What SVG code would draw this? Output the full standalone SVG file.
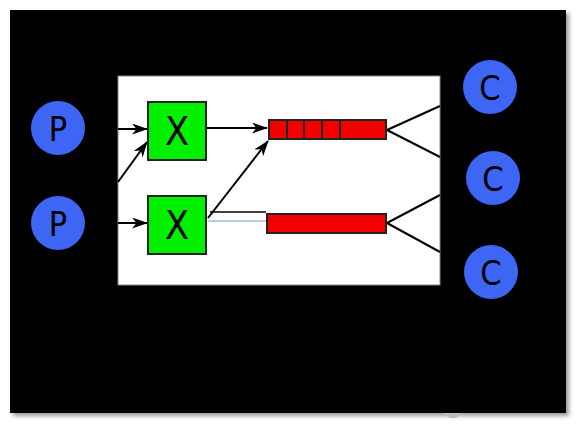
<svg xmlns="http://www.w3.org/2000/svg" width="577" height="424" viewBox="0 0 577 424">
<defs>
<style>
.circ{fill:#3d66f5}
.lbl{font-family:"DejaVu Sans Condensed","DejaVu Sans","Noto Sans",sans-serif;font-size:34px;fill:#000;text-anchor:middle}
.xl{font-family:"DejaVu Sans Condensed","DejaVu Sans","Noto Sans",sans-serif;font-size:39px;fill:#000;text-anchor:middle}
.x{fill:#00f000;stroke:#222;stroke-width:2}
.q{fill:#f00000;stroke:#222;stroke-width:2}
.ln{stroke:#000;stroke-width:2;fill:none}
</style>
<marker id="ah" viewBox="0 0 16 11" refX="15" refY="5.5" markerWidth="16" markerHeight="11" markerUnits="userSpaceOnUse" orient="auto">
<path d="M0,0 L16,5.5 L0,11 L4.5,5.5 Z" fill="#000"/>
</marker>
<filter id="sh" x="-5%" y="-5%" width="115%" height="115%">
<feGaussianBlur stdDeviation="2"/>
</filter>
</defs>
<rect width="577" height="424" fill="#fff"/>
<rect x="13" y="13" width="556" height="403" fill="#999" filter="url(#sh)"/>
<rect x="10" y="10" width="556" height="403" fill="#000"/>
<path d="M443,413 L463,413 L456,418 L450,418 Z" fill="#bbb"/>
<rect id="panel" x="118" y="76" width="322" height="209" fill="#fff" stroke="#888" stroke-width="1"/>
<g id="connectors">
<line class="ln" x1="118" y1="129" x2="147" y2="129" marker-end="url(#ah)"/>
<line class="ln" x1="118" y1="182" x2="147" y2="142" marker-end="url(#ah)"/>
<line class="ln" x1="118" y1="223" x2="147" y2="223" marker-end="url(#ah)"/>
<line class="ln" x1="207" y1="128" x2="267" y2="128" marker-end="url(#ah)"/>
<line class="ln" x1="208" y1="218" x2="268" y2="141" marker-end="url(#ah)"/>
<line class="ln" x1="387" y1="130" x2="440" y2="106"/>
<line class="ln" x1="387" y1="130" x2="440" y2="157"/>
<line class="ln" x1="387" y1="223" x2="440" y2="195"/>
<line class="ln" x1="387" y1="223" x2="440" y2="252"/>
<line x1="210" y1="212" x2="266" y2="212" stroke="#000" stroke-width="1.5"/>
<line x1="208" y1="221" x2="266" y2="221" stroke="#6aa0c8" stroke-width="1"/>
</g>
<g id="P1"><circle class="circ" cx="58" cy="128" r="27"/><text class="lbl" x="58" y="141">P</text></g>
<g id="P2"><circle class="circ" cx="58" cy="223" r="27"/><text class="lbl" x="58" y="236">P</text></g>
<g id="X1"><rect class="x" x="148" y="102" width="58" height="58"/><text class="xl" x="177" y="145">X</text></g>
<g id="X2"><rect class="x" x="148" y="196" width="58" height="58"/><text class="xl" x="177" y="239">X</text></g>
<g id="Q1"><rect class="q" x="269" y="120" width="117" height="19"/>
<path d="M287,120 V139 M304,120 V139 M322,120 V139 M340,120 V139" stroke="#222" stroke-width="2"/></g>
<g id="Q2"><rect class="q" x="267" y="214" width="119" height="19"/></g>
<g id="C1"><circle class="circ" cx="490" cy="87" r="27"/><text class="lbl" x="490" y="100">C</text></g>
<g id="C2"><circle class="circ" cx="493" cy="178" r="27"/><text class="lbl" x="493" y="191">C</text></g>
<g id="C3"><circle class="circ" cx="491" cy="272" r="27"/><text class="lbl" x="491" y="285">C</text></g>
</svg>
